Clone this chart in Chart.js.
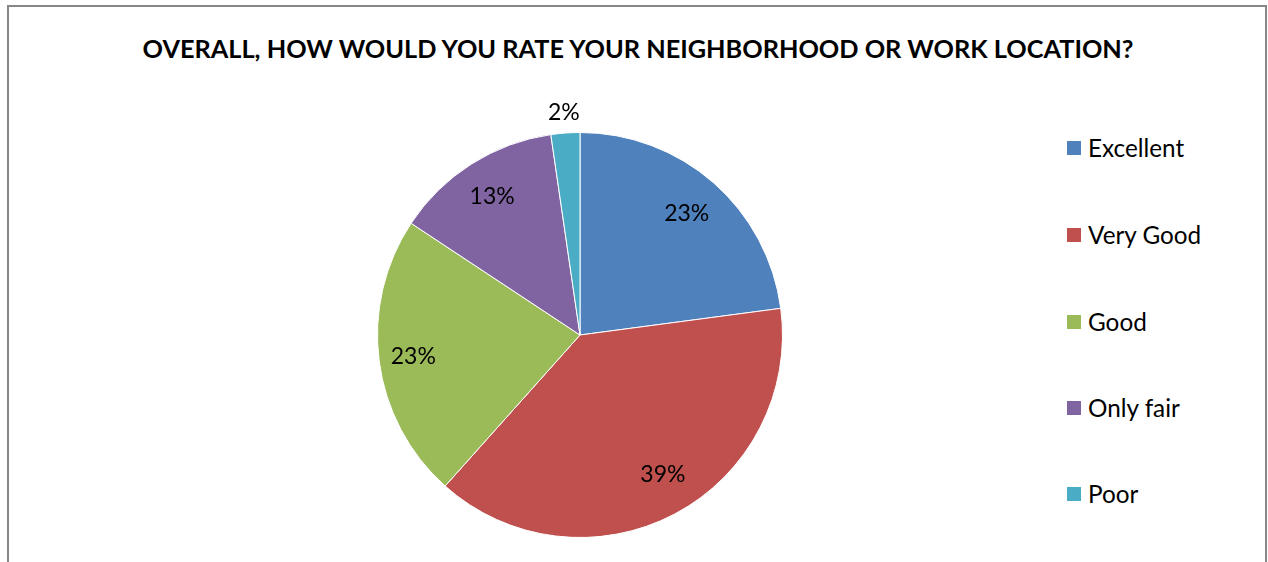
<!DOCTYPE html>
<html>
<head>
<meta charset="utf-8">
<script src="https://cdn.jsdelivr.net/npm/chart.js@4.4.1/dist/chart.umd.min.js"></script>
<style>
  html, body { margin: 0; padding: 0; width: 1268px; height: 562px; overflow: hidden; background: #fff; }
  #frame { position: absolute; left: 7px; top: 5px; width: 1256px; height: 600px; border: 2px solid #878787; border-bottom: none; }
  #title { position: absolute; left: 0; width: 1276px; top: 33px; height: 30px; line-height: 30px; text-align: center; font: bold 25.3px Lato, "Open Sans", sans-serif; color: #000; white-space: nowrap; }
  #legend { position: absolute; left: 1067px; top: 0; font: 24.3px Lato, "Open Sans", sans-serif; color: #000; }
  .item { position: absolute; white-space: nowrap; height: 28px; line-height: 28px; }
  .sw { position: absolute; left: 0; top: 7px; width: 14px; height: 14px; }
  .lbl { position: absolute; left: 21px; top: 0; }
  canvas { position: absolute; left: 0; top: 0; }
</style>
</head>
<body>
<div id="frame"></div>
<div id="title"></div>
<div id="legend"></div>
<canvas id="c" width="1268" height="562"></canvas>
<script>
// ---- data ----
const titleText = "OVERALL, HOW WOULD YOU RATE YOUR NEIGHBORHOOD OR WORK LOCATION?";
const categories = ["Excellent", "Very Good", "Good", "Only fair", "Poor"];
const values = [22.9, 38.7, 22.7, 13.4, 2.3];
const colors = ["#4F81BD", "#C0504D", "#9BBB59", "#8064A2", "#4BACC6"];
// ---- styling ----
const labelRadiusFactor = [0.80, 0.80, 0.83, 0.81, 1.10];
const labelAngleShift = [0, -0.05, 0, 0, 0];
const legendY = [148, 235, 322, 408, 494];

document.getElementById('title').textContent = titleText;
const legendEl = document.getElementById('legend');
categories.forEach((c, i) => {
  const d = document.createElement('div');
  d.className = 'item';
  d.style.top = (legendY[i] - 14) + 'px';
  d.innerHTML = '<span class="sw"></span><span class="lbl"></span>';
  d.querySelector('.sw').style.background = colors[i];
  d.querySelector('.lbl').textContent = c;
  legendEl.appendChild(d);
});

const total = values.reduce((a, b) => a + b, 0);

const pctLabels = {
  id: 'pctLabels',
  afterDatasetsDraw(chart) {
    const ctx = chart.ctx;
    const meta = chart.getDatasetMeta(0);
    ctx.save();
    ctx.font = '23px Lato, "Open Sans", sans-serif';
    ctx.fillStyle = '#000';
    ctx.textAlign = 'center';
    ctx.textBaseline = 'middle';
    meta.data.forEach((arc, i) => {
      const p = arc.getProps(['x', 'y', 'startAngle', 'endAngle', 'outerRadius'], true);
      const mid = (p.startAngle + p.endAngle) / 2 + labelAngleShift[i];
      const r = p.outerRadius * labelRadiusFactor[i];
      const x = p.x + Math.cos(mid) * r;
      const y = p.y + Math.sin(mid) * r;
      ctx.fillText(Math.round(values[i] / total * 100) + '%', x, y);
    });
    ctx.restore();
  }
};

new Chart(document.getElementById('c'), {
  type: 'pie',
  data: {
    labels: categories,
    datasets: [{
      data: values,
      backgroundColor: colors,
      borderColor: '#ffffff',
      borderWidth: 1
    }]
  },
  options: {
    responsive: false,
    animation: false,
    layout: { padding: { top: 131, bottom: 23, left: 377, right: 485 } },
    plugins: {
      legend: { display: false },
      title: { display: false },
      tooltip: { enabled: false }
    }
  },
  plugins: [pctLabels]
});
</script>
</body>
</html>
